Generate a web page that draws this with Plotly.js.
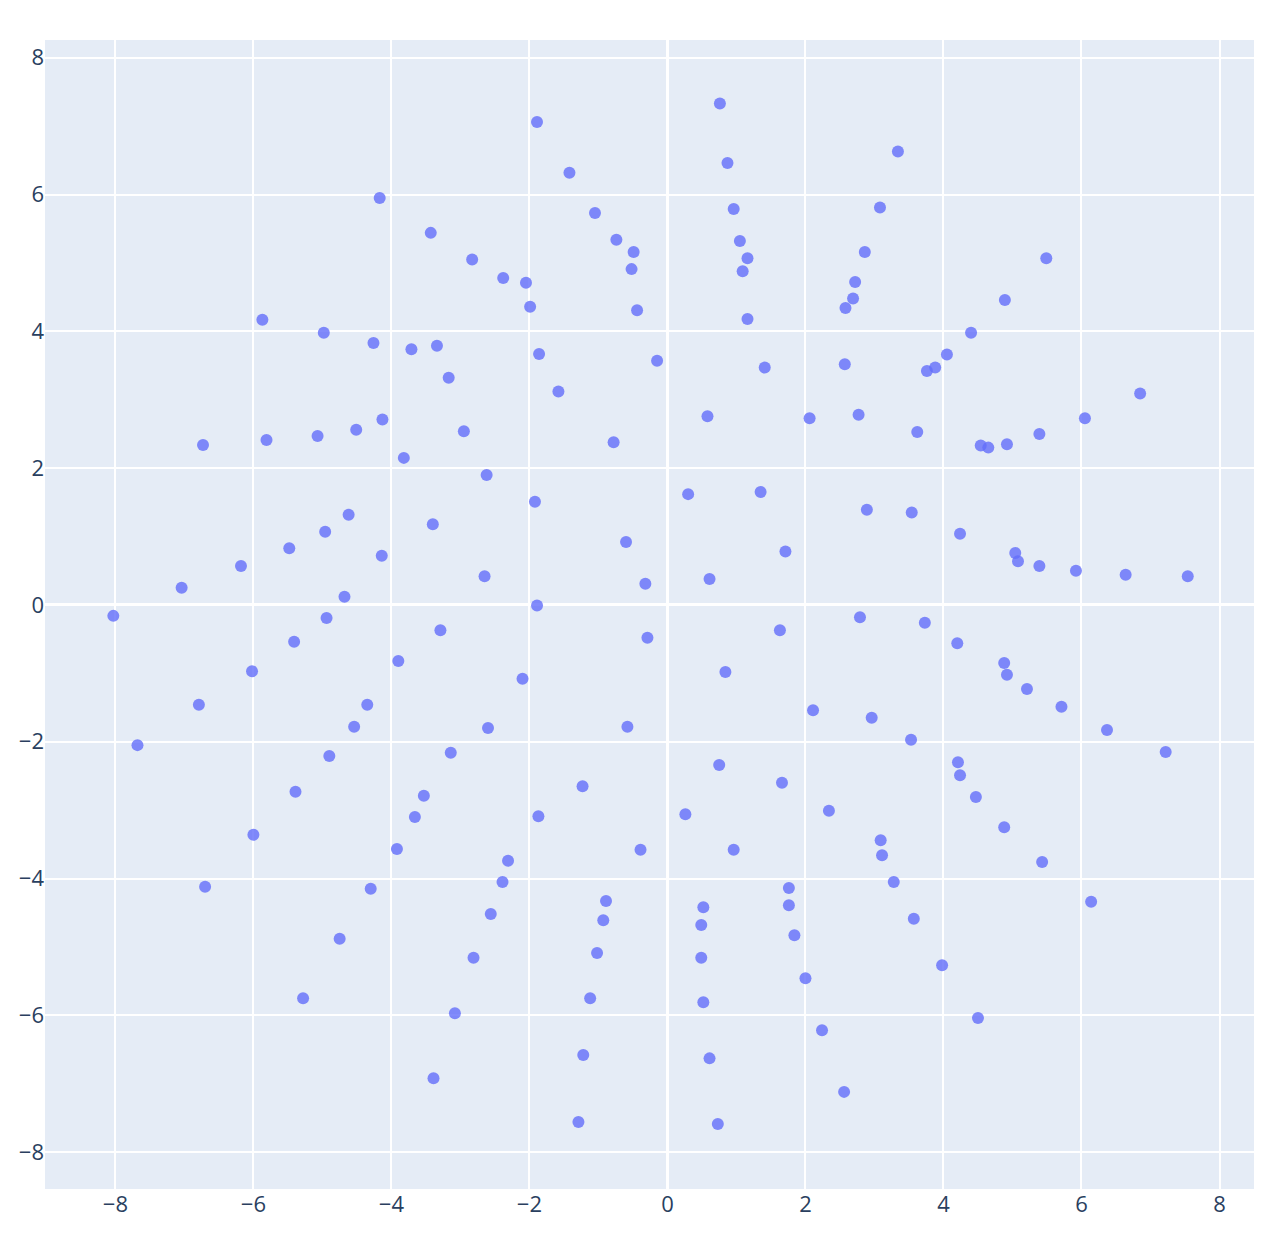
<!DOCTYPE html>
<html>
<head>
<meta charset="utf-8">
<script src="https://cdn.plot.ly/plotly-3.0.1.min.js"></script>
<style>html,body{margin:0;padding:0;background:#fff;}#chart{width:1280px;height:1233px;}</style>
</head>
<body>
<div id="chart"></div>
<script>
const xValues = [0.76, -1.89, 0.87, 3.34, -1.42, -4.17, -1.05, 0.96, 3.08, -3.43, -0.74, -0.49, 1.05, 1.16, 2.86, 5.49, -2.83, -0.52, 1.09, 2.72, -2.38, -2.05, 2.69, 4.89, -1.99, -0.44, 2.58, -5.87, 1.16, -4.98, 4.40, -4.26, -3.34, -3.71, -1.86, 4.05, -0.15, 1.41, 3.88, 3.76, 2.57, -3.17, -1.58, 6.85, 0.58, 2.06, 2.77, 6.05, -4.13, -4.51, -5.07, -2.95, 3.62, 5.39, -0.78, -5.81, -6.73, 4.54, 4.65, 4.92, -3.82, -2.62, 0.30, 1.35, -1.92, 2.89, 3.54, -4.62, -3.40, -4.96, 4.24, -0.60, -5.48, 1.71, -4.14, 5.04, 5.08, -6.18, 5.39, 5.92, 6.64, 7.54, -2.65, 0.61, -0.32, -7.04, -4.68, -1.89, -8.03, -4.94, 2.79, 3.73, 1.63, -3.29, -0.29, -5.41, 4.20, 4.88, -3.90, -6.02, 0.84, 4.92, -2.10, 5.21, -6.79, -4.35, 5.71, 2.11, 2.96, -4.54, -2.60, -0.58, 6.37, 3.53, -7.68, -3.14, -4.90, 7.22, 4.21, 0.75, 4.24, 1.66, -1.23, -5.39, -3.53, 4.47, 2.34, 0.26, -1.87, -3.66, 4.88, -6.00, 3.09, -3.92, 0.96, -0.39, 3.11, -2.31, 5.43, -2.39, 3.28, -6.70, -4.30, 1.76, -0.89, 6.14, 1.76, 0.52, -2.56, -0.93, 3.57, 0.49, 1.84, -4.75, -1.02, 0.49, -2.81, 3.98, 2.00, -5.28, -1.12, 0.52, -3.08, 4.50, 2.24, -1.22, 0.61, -3.39, 2.56, -1.29, 0.73];

const yValues = [7.33, 7.06, 6.46, 6.63, 6.32, 5.95, 5.73, 5.79, 5.81, 5.44, 5.34, 5.16, 5.32, 5.07, 5.16, 5.07, 5.05, 4.91, 4.88, 4.72, 4.78, 4.71, 4.48, 4.46, 4.36, 4.31, 4.34, 4.17, 4.18, 3.98, 3.98, 3.83, 3.79, 3.74, 3.67, 3.66, 3.57, 3.47, 3.47, 3.42, 3.52, 3.32, 3.12, 3.09, 2.76, 2.73, 2.78, 2.73, 2.71, 2.56, 2.47, 2.54, 2.53, 2.50, 2.38, 2.41, 2.34, 2.33, 2.30, 2.35, 2.15, 1.90, 1.62, 1.65, 1.51, 1.39, 1.35, 1.32, 1.18, 1.07, 1.04, 0.92, 0.83, 0.78, 0.72, 0.76, 0.64, 0.57, 0.57, 0.50, 0.44, 0.42, 0.42, 0.38, 0.31, 0.25, 0.12, -0.01, -0.16, -0.19, -0.18, -0.26, -0.37, -0.37, -0.48, -0.54, -0.56, -0.85, -0.82, -0.97, -0.98, -1.02, -1.08, -1.23, -1.46, -1.46, -1.49, -1.54, -1.65, -1.78, -1.80, -1.78, -1.83, -1.97, -2.05, -2.16, -2.21, -2.15, -2.30, -2.34, -2.49, -2.60, -2.65, -2.73, -2.79, -2.81, -3.01, -3.06, -3.09, -3.10, -3.25, -3.36, -3.44, -3.57, -3.58, -3.58, -3.66, -3.74, -3.76, -4.05, -4.05, -4.12, -4.15, -4.14, -4.33, -4.34, -4.39, -4.42, -4.52, -4.61, -4.59, -4.68, -4.83, -4.88, -5.09, -5.16, -5.16, -5.27, -5.46, -5.75, -5.75, -5.81, -5.97, -6.04, -6.22, -6.58, -6.63, -6.92, -7.12, -7.56, -7.59];

const xTicks = [-8, -6, -4, -2, 0, 2, 4, 6, 8];
const yTicks = [-8, -6, -4, -2, 0, 2, 4, 6, 8];

const trace = {
  type: 'scatter',
  mode: 'markers',
  x: xValues,
  y: yValues,
  marker: {color: '#636efa', size: 12, opacity: 0.8},
  showlegend: false,
  hoverinfo: 'x+y'
};

const axisCommon = {
  gridcolor: '#ffffff',
  gridwidth: 2,
  zeroline: true,
  zerolinecolor: '#ffffff',
  zerolinewidth: 3,
  showline: false,
  ticks: '',
  tickfont: {family: '"Open Sans", sans-serif', size: 22, color: '#2a3f5f'},
  tickmode: 'array'
};

const layout = {
  width: 1280,
  height: 1233,
  margin: {l: 45, r: 26, t: 40, b: 44},
  paper_bgcolor: '#ffffff',
  plot_bgcolor: '#e5ecf6',
  font: {family: '"Open Sans", sans-serif', size: 22, color: '#2a3f5f'},
  xaxis: Object.assign({}, axisCommon, {range: [-9.02, 8.5], tickvals: xTicks, ticktext: xTicks.map(v => v < 0 ? '\u2212' + Math.abs(v) : String(v))}),
  yaxis: Object.assign({}, axisCommon, {range: [-8.54, 8.26], tickvals: yTicks, ticktext: yTicks.map(v => v < 0 ? '\u2212' + Math.abs(v) : String(v))}),
  showlegend: false
};

Plotly.newPlot('chart', [trace], layout, {displayModeBar: false});
</script>
</body>
</html>
